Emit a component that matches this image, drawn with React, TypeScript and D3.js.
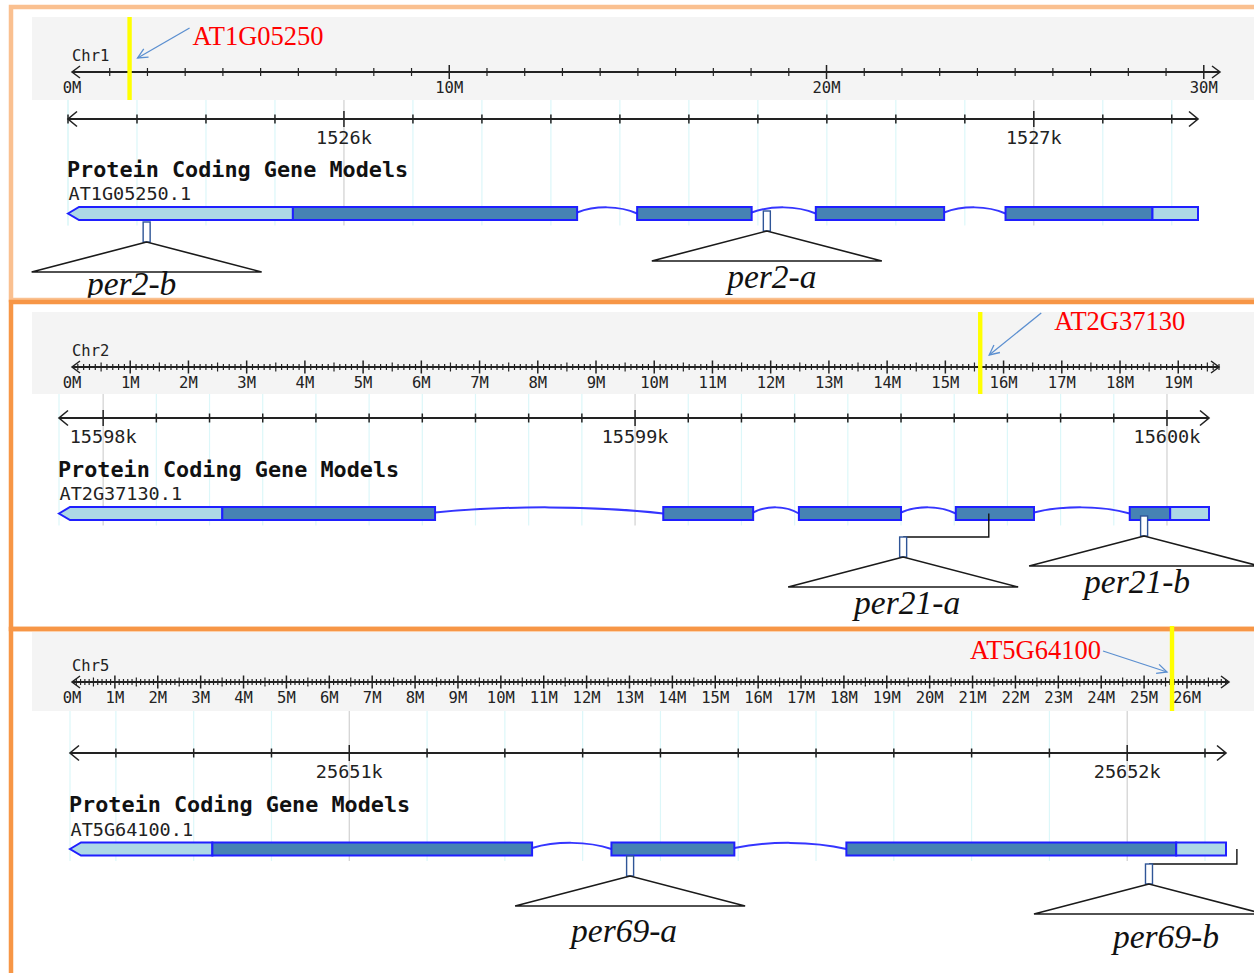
import React from "react";
import * as d3 from "d3";

// ---- data: chromosome overview ----
const chromNames = ["Chr1", "Chr2", "Chr5"];
const chromLengthMb = [30.43, 19.7, 26.98];
const chromLabelStepMb = [10, 1, 1];
const geneNames = ["AT1G05250", "AT2G37130", "AT5G64100"];
const transcriptNames = ["AT1G05250.1", "AT2G37130.1", "AT5G64100.1"];
const geneLocusMb = [1.526, 15.599, 25.651];

// ---- data: detail window (bp) ----
const viewStart = [1525600, 15597917, 25650641];
const viewEnd = [1527238, 15600079, 25652127];

// exons, left to right (bp)
const exonsChr1 = [
  [1525600, 1526338],
  [1526425, 1526591],
  [1526684, 1526870],
  [1526959, 1527238],
];
const exonsChr2 = [
  [15597917, 15598624],
  [15599053, 15599222],
  [15599308, 15599500],
  [15599603, 15599750],
  [15599930, 15600079],
];
const exonsChr5 = [
  [25650641, 25651235],
  [25651337, 25651495],
  [25651639, 25652127],
];
const geneExons = [exonsChr1, exonsChr2, exonsChr5];
const cdsRange = [
  [1525926, 1527172],
  [15598224, 15600006],
  [25650824, 25652063],
];

// T-DNA insertion lines
const insertNames = [["per2-b", "per2-a"], ["per21-a", "per21-b"], ["per69-a", "per69-b"]];
const insertSites = [[1525714, 1526613], [15599665, 15599957], [25651361, 25652141]];
const insertShown = [[1525714, 1526613], [15599504, 15599957], [25651361, 25652028]];

// ---- layout ----
const W = 1254;
const H = 973;
const frameTop = [7, 302, 629];
const frameBottom = [300, 629, 990];
const frameColors = ["#fac090", "#f79646", "#f79646"];
const bandTop = [17, 312, 632];
const bandBottom = [100, 394, 711];
const markerTop = [17, 312, 626];
const chromRange = [[72, 1220], [72, 1219], [72, 1229]];
const chromAxisY = [72, 367, 682];
const detailRange = [[68, 1198], [59, 1209], [70, 1226]];
const detailAxisY = [119, 418, 753];
const geneY = [213.5, 513.5, 849];
const calloutFrom = [[60, -44], [61, -54], [-69, -31]];
const calloutTo = [[8, -14], [9, -12], [-5, -10]];
const calloutText = [[63, -27], [74, -37], [-71, -23]];
const insertDrop = [[8.5, -2.5], [23.5, 2.5], [7, 15]];
const insertLabelShift = [
  [[-15, 23], [5, 27]],
  [[4, 27], [-7, 27]],
  [[-6, 36], [17, 34]],
];

const mono = "'DejaVu Sans Mono', monospace";
const serif = "'Liberation Serif', 'Times New Roman', serif";
const ink = "#222";

function Panel({ i }: { i: number }) {
  const chrom = d3.scaleLinear().domain([0, chromLengthMb[i]]).range(chromRange[i]);
  const detail = d3.scaleLinear().domain([viewStart[i], viewEnd[i]]).range(detailRange[i]);
  const cy = chromAxisY[i];
  const dy = detailAxisY[i];
  const yc = geneY[i];
  const [cx0, cx1] = chromRange[i];
  const [dx0, dx1] = detailRange[i];

  // chromosome ticks
  const coarse = chromLabelStepMb[i] === 10;
  const minorStep = coarse ? 1 : 0.1;
  const nTicks = Math.floor(chromLengthMb[i] / minorStep + 1e-6);
  const chromTicks = d3.range(1, nTicks + 1).map((k) => {
    const level = k % 10 === 0 ? 2 : !coarse && k % 5 === 0 ? 1 : 0;
    return { mb: k * minorStep, level };
  });
  const tickHalf = coarse ? [4, 4, 7] : [3, 4.5, 6.5];
  const chromLabels = d3.range(0, chromLengthMb[i] + 1e-6, chromLabelStepMb[i]);

  // detail ticks every 100 bp
  const first = Math.ceil(viewStart[i] / 100) * 100;
  const detailTicks = d3.range(first, viewEnd[i] + 1, 100);

  // gene segments split into UTR / CDS
  const [cs, ce] = cdsRange[i];
  const segments: { s: number; e: number; cds: boolean }[] = [];
  geneExons[i].forEach(([s, e]) => {
    if (s < cs) segments.push({ s, e: Math.min(e, cs), cds: false });
    if (e > cs && s < ce) segments.push({ s: Math.max(s, cs), e: Math.min(e, ce), cds: true });
    if (e > ce) segments.push({ s: Math.max(s, ce), e, cds: false });
  });
  const hh = 6.5;

  // introns drawn as a shallow hump
  const introns = d3.range(geneExons[i].length - 1).map((k) => {
    const a = detail(geneExons[i][k][1]);
    const b = detail(geneExons[i][k + 1][0]);
    const p = d3.path();
    p.moveTo(a, yc - 1);
    p.bezierCurveTo(a + (b - a) * 0.3, yc - 8, a + (b - a) * 0.7, yc - 8, b, yc);
    return p.toString();
  });

  return (
    <g>
      <rect x={32} y={bandTop[i]} width={W - 32} height={bandBottom[i] - bandTop[i]} fill="#f4f4f4" />

      {/* grid lines */}
      {[viewStart[i], ...detailTicks].map((v, k) => (
        <line
          key={"g" + k}
          x1={detail(v)}
          x2={detail(v)}
          y1={bandBottom[i]}
          y2={yc + 12}
          stroke={v % 1000 === 0 ? "#d0d0d0" : "#dcf7f9"}
          strokeWidth={1.2}
        />
      ))}

      {/* chromosome ruler */}
      <text x={cx0} y={cy - 11} fontFamily={mono} fontSize={15.5} fill={ink}>
        {chromNames[i]}
      </text>
      <line x1={cx0} x2={cx1} y1={cy} y2={cy} stroke={ink} strokeWidth={1.8} />
      <path d={`M${cx0 + 8},${cy - 6}L${cx0},${cy}L${cx0 + 8},${cy + 6}`} fill="none" stroke={ink} strokeWidth={1.5} />
      <path d={`M${cx1 - 8},${cy - 6}L${cx1},${cy}L${cx1 - 8},${cy + 6}`} fill="none" stroke={ink} strokeWidth={1.5} />
      {chromTicks.map((t, k) => (
        <line
          key={"c" + k}
          x1={chrom(t.mb)}
          x2={chrom(t.mb)}
          y1={cy - tickHalf[t.level]}
          y2={cy + tickHalf[t.level]}
          stroke={ink}
          strokeWidth={t.level === 2 ? 1.5 : 1.2}
        />
      ))}
      {chromLabels.map((v) => (
        <text key={"cl" + v} x={chrom(v)} y={cy + 20.5} textAnchor="middle" fontFamily={mono} fontSize={15.5} fill={ink}>
          {`${v}M`}
        </text>
      ))}

      {/* detail ruler */}
      <line x1={dx0} x2={dx1} y1={dy} y2={dy} stroke={ink} strokeWidth={1.8} />
      <path d={`M${dx0 + 9},${dy - 7.5}L${dx0},${dy}L${dx0 + 9},${dy + 7.5}`} fill="none" stroke={ink} strokeWidth={1.6} />
      <path d={`M${dx1 - 9},${dy - 7.5}L${dx1},${dy}L${dx1 - 9},${dy + 7.5}`} fill="none" stroke={ink} strokeWidth={1.6} />
      {detailTicks.map((v) => (
        <line
          key={"d" + v}
          x1={detail(v)}
          x2={detail(v)}
          y1={dy - (v % 1000 === 0 ? 8 : 4.5)}
          y2={dy + (v % 1000 === 0 ? 8 : 4.5)}
          stroke={ink}
          strokeWidth={1.5}
        />
      ))}
      {detailTicks
        .filter((v) => v % 1000 === 0)
        .map((v) => (
          <text key={"dl" + v} x={detail(v)} y={dy + 25} textAnchor="middle" fontFamily={mono} fontSize={18.5} fill={ink}>
            {`${v / 1000}k`}
          </text>
        ))}

      {/* gene model */}
      <text x={dx0 - 1} y={yc - 37} fontFamily={mono} fontWeight="bold" fontSize={21.8} fill="#111">
        Protein Coding Gene Models
      </text>
      <text x={dx0 + 0.5} y={yc - 13.5} fontFamily={mono} fontSize={18.5} fill={ink}>
        {transcriptNames[i]}
      </text>
      {introns.map((p, k) => (
        <path key={"in" + k} d={p} fill="none" stroke="#3535ff" strokeWidth={2} />
      ))}
      {segments.map((sg, k) => {
        const a = detail(sg.s);
        const b = detail(sg.e);
        const fill = sg.cds ? "#4682b4" : "#add8e6";
        if (k === 0) {
          const pts = `${a},${yc} ${a + 11},${yc - hh} ${b},${yc - hh} ${b},${yc + hh} ${a + 11},${yc + hh}`;
          return <polygon key={"s" + k} points={pts} fill={fill} stroke="#1f1fff" strokeWidth={2} />;
        }
        return (
          <rect key={"s" + k} x={a} y={yc - hh} width={b - a} height={hh * 2} fill={fill} stroke="#1f1fff" strokeWidth={2} />
        );
      })}

      {/* insertions */}
      {insertNames[i].map((name, j) => {
        const site = detail(insertSites[i][j]);
        const shown = detail(insertShown[i][j]);
        const top = yc + insertDrop[i][j];
        const apex = top + 20;
        const base = apex + 30;
        const [lx, ly] = insertLabelShift[i][j];
        return (
          <g key={name}>
            {site !== shown && (
              <path d={`M${site},${yc}V${top}H${shown}`} fill="none" stroke="#111" strokeWidth={1.4} />
            )}
            <rect x={shown - 3.5} y={top} width={7} height={20} fill="#fff" stroke="#2f5597" strokeWidth={1.4} />
            <polygon
              points={`${shown},${apex} ${shown - 115},${base} ${shown + 115},${base}`}
              fill="#fff"
              stroke="#1a1a1a"
              strokeWidth={1.6}
            />
            <text x={shown + lx} y={base + ly} textAnchor="middle" fontFamily={serif} fontStyle="italic" fontSize={33.5} fill="#111">
              {name}
            </text>
          </g>
        );
      })}
    </g>
  );
}

function Callout({ i }: { i: number }) {
  const chrom = d3.scaleLinear().domain([0, chromLengthMb[i]]).range(chromRange[i]);
  const m = chrom(geneLocusMb[i]);
  const y = chromAxisY[i];
  const x1 = m + calloutFrom[i][0];
  const y1 = y + calloutFrom[i][1];
  const x2 = m + calloutTo[i][0];
  const y2 = y + calloutTo[i][1];
  const ang = Math.atan2(y2 - y1, x2 - x1);
  const hl = 11;
  const h1 = [x2 - hl * Math.cos(ang - 0.45), y2 - hl * Math.sin(ang - 0.45)];
  const h2 = [x2 - hl * Math.cos(ang + 0.45), y2 - hl * Math.sin(ang + 0.45)];
  const [tx, ty] = calloutText[i];
  return (
    <g>
      <rect x={m - 2.2} y={markerTop[i]} width={4.4} height={bandBottom[i] - markerTop[i]} fill="#ffff00" />
      <line x1={x1} y1={y1} x2={x2} y2={y2} stroke="#5b8fd0" strokeWidth={1.3} />
      <path d={`M${h1[0]},${h1[1]}L${x2},${y2}L${h2[0]},${h2[1]}`} fill="none" stroke="#5b8fd0" strokeWidth={1.3} />
      <text x={m + tx} y={y + ty} textAnchor={tx < 0 ? "end" : "start"} fontFamily={serif} fontSize={26.5} fill="#ff0000">
        {geneNames[i]}
      </text>
    </g>
  );
}

export default function App() {
  const panels = [0, 1, 2];
  return (
    <svg width={W} height={H} style={{ position: "absolute", left: 0, top: 0, background: "#fff" }}>
      <rect width={W} height={H} fill="#fff" />
      {panels.map((i) => (
        <Panel key={i} i={i} />
      ))}
      {panels.map((i) => (
        <rect
          key={"f" + i}
          x={11}
          y={frameTop[i]}
          width={W + 40}
          height={frameBottom[i] - frameTop[i]}
          fill="none"
          stroke={frameColors[i]}
          strokeWidth={4.5}
        />
      ))}
      {panels.map((i) => (
        <Callout key={"c" + i} i={i} />
      ))}
    </svg>
  );
}
